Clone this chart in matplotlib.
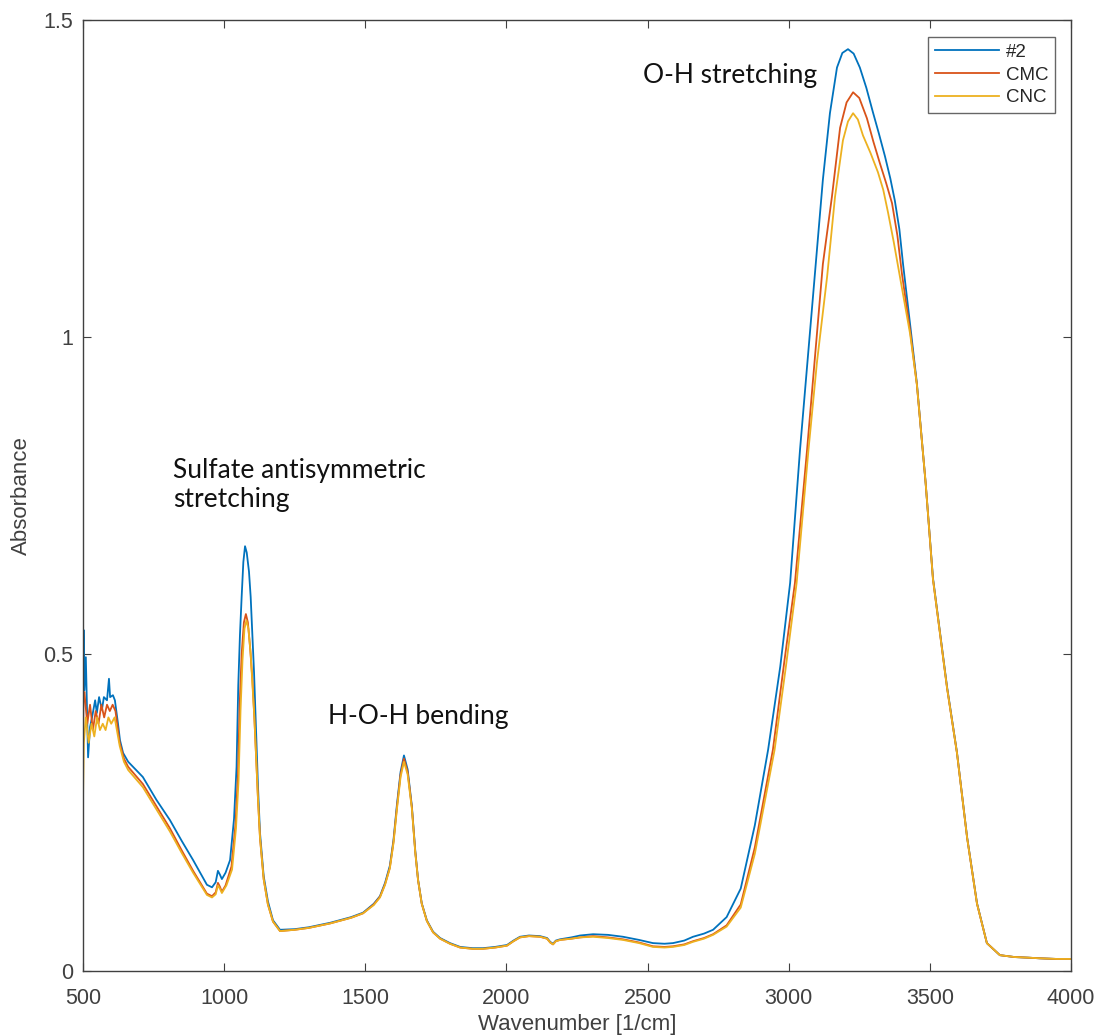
import matplotlib
matplotlib.use("Agg")
import matplotlib.pyplot as plt

# === Spectra (wavenumber [1/cm], absorbance) ===
wn_2 = [500, 502, 505, 510, 518, 525, 532, 543, 549, 557, 567, 574, 585, 592,
        596, 606, 613, 624, 631, 642, 660, 712, 760, 808, 850, 890, 939, 957,
        970, 978, 985, 992, 1005, 1021, 1035, 1044, 1050, 1056, 1062, 1068,
        1074, 1080, 1088, 1094, 1100, 1106, 1113, 1120, 1127, 1140, 1155, 1173,
        1198, 1250, 1300, 1375, 1450, 1492, 1530, 1552, 1570, 1587, 1600, 1612,
        1625, 1637, 1650, 1665, 1677, 1687, 1700, 1718, 1740, 1765, 1800, 1836,
        1880, 1917, 1960, 2002, 2025, 2048, 2080, 2119, 2144, 2155, 2165, 2175,
        2190, 2230, 2261, 2307, 2360, 2413, 2470, 2519, 2560, 2590, 2630, 2661,
        2700, 2732, 2780, 2830, 2880, 2927, 2970, 3005, 3040, 3070, 3100, 3121,
        3146, 3171, 3190, 3210, 3230, 3252, 3275, 3298, 3320, 3341, 3360, 3376,
        3392, 3405, 3430, 3454, 3485, 3511, 3561, 3596, 3632, 3667, 3702, 3748,
        3800, 3850, 3890, 3950, 4000]
abs_2 = [0.40, 0.538, 0.443, 0.495, 0.337, 0.385, 0.400, 0.427, 0.407, 0.432,
         0.412, 0.432, 0.427, 0.461, 0.432, 0.435, 0.427, 0.390, 0.364, 0.344,
         0.330, 0.306, 0.270, 0.238, 0.205, 0.175, 0.136, 0.132, 0.140, 0.158,
         0.152, 0.145, 0.155, 0.175, 0.240, 0.322, 0.450, 0.530, 0.590, 0.645,
         0.670, 0.660, 0.630, 0.590, 0.530, 0.470, 0.380, 0.290, 0.218, 0.150,
         0.110, 0.080, 0.065, 0.066, 0.069, 0.076, 0.085, 0.092, 0.106, 0.118,
         0.139, 0.166, 0.207, 0.262, 0.314, 0.340, 0.318, 0.260, 0.190, 0.144,
         0.107, 0.080, 0.062, 0.052, 0.044, 0.038, 0.036, 0.036, 0.038, 0.041,
         0.048, 0.054, 0.056, 0.055, 0.052, 0.046, 0.043, 0.048, 0.050, 0.053,
         0.056, 0.058, 0.057, 0.054, 0.049, 0.044, 0.043, 0.044, 0.048, 0.054,
         0.059, 0.065, 0.085, 0.130, 0.230, 0.349, 0.480, 0.612, 0.822, 0.980,
         1.137, 1.248, 1.353, 1.425, 1.448, 1.454, 1.447, 1.425, 1.393, 1.355,
         1.320, 1.285, 1.250, 1.215, 1.170, 1.115, 1.020, 0.927, 0.770, 0.620,
         0.448, 0.345, 0.211, 0.107, 0.044, 0.025, 0.022, 0.021, 0.020, 0.019,
         0.019]

wn_cmc = [500, 502, 505, 515, 525, 535, 545, 555, 565, 575, 585, 595, 605, 615,
          630, 645, 660, 712, 760, 808, 850, 890, 939, 957, 970, 978, 985, 992,
          1005, 1026, 1040, 1049, 1055, 1062, 1070, 1077, 1084, 1092, 1100,
          1107, 1113, 1120, 1127, 1140, 1155, 1173, 1198, 1250, 1300, 1375,
          1450, 1492, 1530, 1552, 1570, 1587, 1600, 1612, 1625, 1637, 1650,
          1665, 1677, 1687, 1700, 1718, 1740, 1765, 1800, 1836, 1880, 1917,
          1960, 2002, 2025, 2048, 2080, 2119, 2144, 2155, 2165, 2175, 2190,
          2230, 2261, 2307, 2360, 2413, 2470, 2519, 2560, 2590, 2630, 2661,
          2700, 2732, 2780, 2830, 2880, 2944, 2985, 3022, 3065, 3095, 3121,
          3153, 3182, 3205, 3228, 3250, 3277, 3300, 3323, 3345, 3366, 3385,
          3401, 3430, 3454, 3485, 3511, 3561, 3596, 3632, 3667, 3702, 3748,
          3800, 3850, 3890, 3950, 4000]
abs_cmc = [0.36, 0.437, 0.44, 0.39, 0.42, 0.38, 0.41, 0.39, 0.42, 0.40, 0.42,
           0.41, 0.42, 0.41, 0.36, 0.335, 0.322, 0.295, 0.260, 0.225, 0.190,
           0.158, 0.122, 0.118, 0.124, 0.139, 0.133, 0.125, 0.135, 0.165,
           0.230, 0.310, 0.420, 0.500, 0.550, 0.563, 0.550, 0.510, 0.460,
           0.400, 0.340, 0.270, 0.210, 0.145, 0.105, 0.078, 0.063, 0.065,
           0.068, 0.075, 0.084, 0.091, 0.105, 0.117, 0.137, 0.163, 0.204,
           0.258, 0.310, 0.335, 0.314, 0.258, 0.188, 0.143, 0.106, 0.079,
           0.061, 0.051, 0.043, 0.037, 0.035, 0.035, 0.037, 0.040, 0.047,
           0.053, 0.055, 0.054, 0.051, 0.045, 0.042, 0.047, 0.049, 0.051,
           0.053, 0.055, 0.053, 0.050, 0.045, 0.039, 0.038, 0.039, 0.042,
           0.047, 0.052, 0.058, 0.072, 0.105, 0.195, 0.349, 0.490, 0.612,
           0.822, 0.980, 1.115, 1.221, 1.330, 1.370, 1.386, 1.377, 1.345,
           1.308, 1.274, 1.243, 1.211, 1.160, 1.100, 1.010, 0.925, 0.770,
           0.618, 0.446, 0.344, 0.210, 0.106, 0.044, 0.025, 0.022, 0.021,
           0.020, 0.019, 0.019]

wn_cnc = [500, 503, 510, 520, 530, 540, 550, 560, 570, 580, 590, 600, 612, 630,
          645, 660, 712, 760, 808, 850, 890, 939, 957, 970, 978, 985, 992,
          1008, 1028, 1042, 1051, 1058, 1065, 1072, 1079, 1086, 1094, 1100,
          1107, 1113, 1120, 1127, 1140, 1155, 1173, 1198, 1250, 1300, 1375,
          1450, 1492, 1530, 1552, 1570, 1587, 1600, 1612, 1625, 1637, 1650,
          1665, 1677, 1687, 1700, 1718, 1740, 1765, 1800, 1836, 1880, 1917,
          1960, 2002, 2025, 2048, 2080, 2119, 2144, 2155, 2165, 2175, 2190,
          2230, 2261, 2307, 2360, 2413, 2470, 2519, 2560, 2590, 2630, 2661,
          2700, 2732, 2780, 2830, 2880, 2950, 2990, 3028, 3070, 3100, 3136,
          3164, 3192, 3210, 3228, 3245, 3263, 3290, 3316, 3335, 3352, 3372,
          3394, 3430, 3454, 3485, 3511, 3561, 3596, 3632, 3667, 3702, 3748,
          3800, 3850, 3890, 3950, 4000]
abs_cnc = [0.27, 0.36, 0.40, 0.36, 0.39, 0.37, 0.40, 0.38, 0.39, 0.38, 0.40,
           0.39, 0.40, 0.355, 0.330, 0.317, 0.290, 0.255, 0.220, 0.186,
           0.155, 0.120, 0.116, 0.121, 0.135, 0.130, 0.123, 0.135, 0.160,
           0.225, 0.300, 0.410, 0.490, 0.540, 0.553, 0.540, 0.500, 0.455,
           0.400, 0.340, 0.270, 0.210, 0.145, 0.105, 0.078, 0.063, 0.065,
           0.068, 0.075, 0.084, 0.091, 0.104, 0.116, 0.136, 0.162, 0.202,
           0.255, 0.306, 0.330, 0.310, 0.256, 0.187, 0.143, 0.106, 0.079,
           0.061, 0.051, 0.043, 0.037, 0.035, 0.035, 0.037, 0.040, 0.047,
           0.053, 0.055, 0.054, 0.051, 0.045, 0.042, 0.047, 0.049, 0.051,
           0.053, 0.054, 0.052, 0.049, 0.044, 0.038, 0.037, 0.038, 0.041,
           0.046, 0.051, 0.057, 0.070, 0.100, 0.185, 0.349, 0.480, 0.612,
           0.822, 0.960, 1.095, 1.221, 1.310, 1.340, 1.353, 1.343, 1.318,
           1.290, 1.260, 1.232, 1.196, 1.150, 1.095, 1.005, 0.925, 0.770,
           0.618, 0.446, 0.344, 0.210, 0.106, 0.044, 0.025, 0.022, 0.021,
           0.020, 0.019, 0.019]

series_labels = ["#2", "CMC", "CNC"]
x_ticks = [500, 1000, 1500, 2000, 2500, 3000, 3500, 4000]
y_ticks = [0, 0.5, 1, 1.5]
y_tick_labels = ["0", "0.5", "1", "1.5"]

# MATLAB default line colours
colors = ["#0072BD", "#D95319", "#EDB120"]
axis_color = "#404040"

plt.rcParams["font.family"] = ["Liberation Sans", "DejaVu Sans"]

fig = plt.figure(figsize=(10.99, 10.36), dpi=100)
ax = fig.add_axes([83 / 1099, 65 / 1036, 988 / 1099, 951 / 1036])

for wn, ab, lab, col in zip([wn_2, wn_cmc, wn_cnc], [abs_2, abs_cmc, abs_cnc],
                            series_labels, colors):
    ax.plot(wn, ab, color=col, lw=1.3, label=lab)

ax.set_xlim(500, 4000)
ax.set_ylim(0, 1.5)
ax.set_xticks(x_ticks)
ax.set_yticks(y_ticks)
ax.set_yticklabels(y_tick_labels)
ax.tick_params(direction="in", length=6, width=0.8, top=True, right=True,
               labelsize=15.5, colors=axis_color)
ax.tick_params(axis="x", pad=12)
ax.tick_params(axis="y", pad=7)
for sp in ax.spines.values():
    sp.set_color(axis_color)
    sp.set_linewidth(1.0)

ax.set_xlabel("Wavenumber [1/cm]", fontsize=16, color=axis_color, labelpad=4)
ax.set_ylabel("Absorbance", fontsize=16, color=axis_color, labelpad=8)

# peak annotations
ann_font = ["Lato", "DejaVu Sans"]
ax.text(2484, 1.413, "O-H stretching", fontsize=19, family=ann_font,
        va="center", ha="left", color="#111111")
ax.text(819, 0.766, "Sulfate antisymmetric\nstretching", fontsize=19,
        family=ann_font, va="center", ha="left", color="#111111",
        linespacing=1.2)
ax.text(1368, 0.401, "H-O-H bending", fontsize=19, family=ann_font,
        va="center", ha="left", color="#111111")

leg = ax.legend(loc="upper right", bbox_to_anchor=(0.984, 0.982),
                fontsize=13.5, frameon=True, fancybox=False, handlelength=3.4,
                labelspacing=0.3, borderpad=0.35, handletextpad=0.4,
                borderaxespad=0)
leg.get_frame().set_edgecolor(axis_color)
leg.get_frame().set_linewidth(1.0)
for t in leg.get_texts():
    t.set_color("#262626")

fig.savefig("out.png", dpi=100)
